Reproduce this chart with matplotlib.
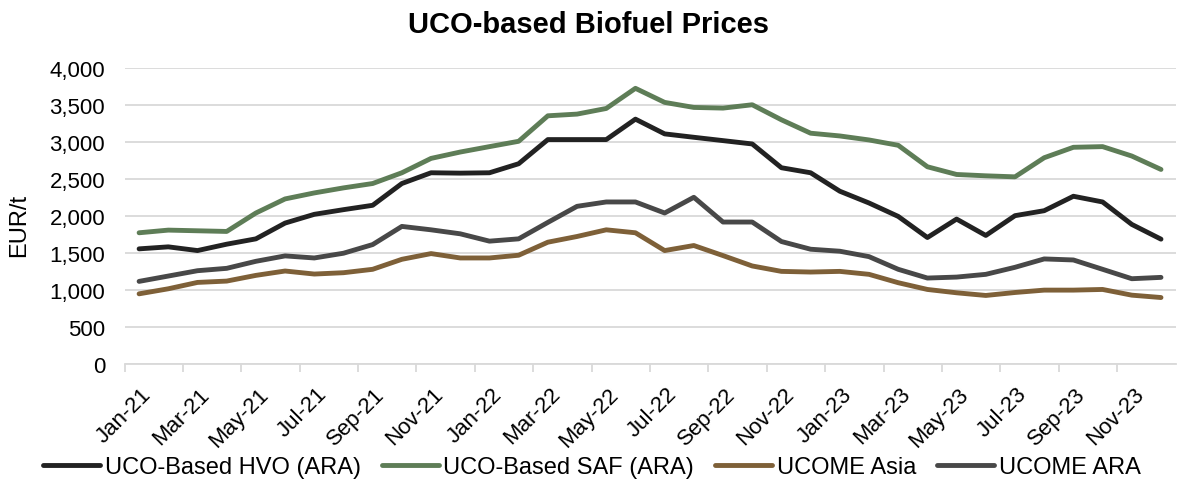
import matplotlib
matplotlib.use('Agg')
import matplotlib.pyplot as plt
import matplotlib.transforms as mtransforms
import numpy as np

months = ['Jan-21', 'Feb-21', 'Mar-21', 'Apr-21', 'May-21', 'Jun-21', 'Jul-21', 'Aug-21', 'Sep-21', 'Oct-21', 'Nov-21', 'Dec-21',
          'Jan-22', 'Feb-22', 'Mar-22', 'Apr-22', 'May-22', 'Jun-22', 'Jul-22', 'Aug-22', 'Sep-22', 'Oct-22', 'Nov-22', 'Dec-22',
          'Jan-23', 'Feb-23', 'Mar-23', 'Apr-23', 'May-23', 'Jun-23', 'Jul-23', 'Aug-23', 'Sep-23', 'Oct-23', 'Nov-23', 'Dec-23']

hvo_ara = [1557, 1584, 1534, 1620, 1692, 1905, 2023, 2086, 2145, 2439, 2584, 2579,
           2584, 2706, 3032, 3032, 3032, 3308, 3109, 3063, 3018, 2973, 2652, 2584,
           2335, 2176, 1995, 1710, 1959, 1738, 2005, 2072, 2267, 2190, 1887, 1688]
saf_ara = [1774, 1810, 1801, 1792, 2041, 2231, 2312, 2380, 2439, 2584, 2778, 2864,
           2937, 3009, 3353, 3376, 3452, 3724, 3534, 3466, 3457, 3502, 3299, 3118,
           3081, 3027, 2955, 2665, 2561, 2543, 2529, 2787, 2928, 2937, 2810, 2629]
ucome_asia = [950, 1018, 1104, 1122, 1199, 1258, 1217, 1235, 1281, 1416, 1493, 1434,
              1434, 1471, 1647, 1724, 1814, 1774, 1534, 1602, 1466, 1326, 1253, 1244,
              1253, 1213, 1100, 1009, 964, 928, 968, 1000, 1000, 1009, 932, 900]
ucome_ara = [1118, 1190, 1262, 1294, 1389, 1462, 1434, 1498, 1615, 1860, 1814, 1760,
             1661, 1692, 1914, 2131, 2190, 2190, 2041, 2253, 1919, 1919, 1656, 1552,
             1525, 1452, 1281, 1163, 1176, 1213, 1308, 1421, 1407, 1281, 1154, 1172]

series = [
    ('UCO-Based HVO (ARA)', hvo_ara, '#222222'),
    ('UCO-Based SAF (ARA)', saf_ara, '#5E7D57'),
    ('UCOME Asia', ucome_asia, '#7E6038'),
    ('UCOME ARA', ucome_ara, '#484848'),
]

plt.rcParams['font.family'] = ['Liberation Sans', 'DejaVu Sans']

fig = plt.figure(figsize=(11.79, 4.85), dpi=100)
ax = fig.add_axes([0.1056, 0.247, 0.8915, 0.611])

x = np.arange(len(months))
for name, vals, color in series:
    ax.plot(x, vals, color=color, linewidth=3.5, label=name, solid_capstyle='round', solid_joinstyle='round')

ax.set_xlim(-0.5, len(months) - 0.5)
ax.set_ylim(0, 4000)
ax.set_yticks(range(0, 4001, 500))
ax.set_yticklabels([f'{v:,}' for v in range(0, 4001, 500)], fontsize=16)
ax.tick_params(axis='y', length=0, pad=14)
ax.grid(axis='y', color='#D9D9D9', linewidth=1.3)
ax.set_axisbelow(True)

# labels every 2 months, tick marks between categories
ax.set_xticks(x[::2])
ax.set_xticklabels(months[::2], rotation=45, ha='right', va='center', rotation_mode='anchor', fontsize=16)
ax.tick_params(axis='x', which='major', length=0, pad=19)
shift = mtransforms.ScaledTranslation(9 / 100, 0, fig.dpi_scale_trans)
for lbl in ax.get_xticklabels():
    lbl.set_transform(lbl.get_transform() + shift)
ax.set_xticks(x[::2] - 0.5, minor=True)
ax.tick_params(axis='x', which='minor', length=6, color='#D9D9D9', width=1.3)

for s in ['top', 'right', 'left']:
    ax.spines[s].set_visible(False)
ax.spines['bottom'].set_color('#D9D9D9')
ax.spines['bottom'].set_linewidth(1.3)

ax.set_ylabel('EUR/t', fontsize=17, va='center')
ax.yaxis.set_label_coords(-0.1, 0.47)
fig.text(0.499, 0.948, 'UCO-based Biofuel Prices', ha='center', va='center', fontsize=21, fontweight='bold')

fig.legend(loc='center', bbox_to_anchor=(0.502, 0.035), ncol=4, frameon=False, fontsize=17,
           handlelength=2.4, handletextpad=0.2, columnspacing=0.9)

fig.savefig('out.png', dpi=100)
